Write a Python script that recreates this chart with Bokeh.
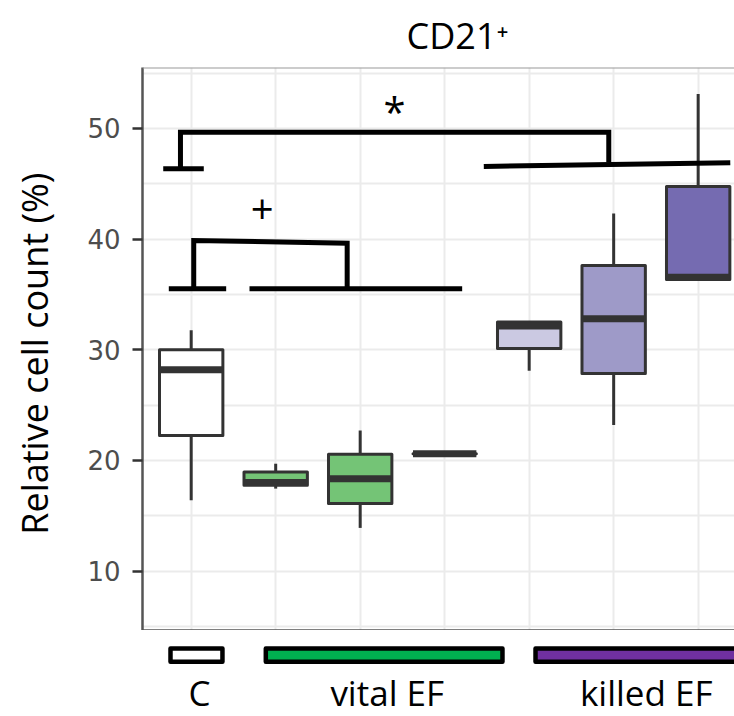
from bokeh.plotting import figure
from bokeh.layouts import column
from bokeh.models import Range1d, FixedTicker, ColumnDataSource, Span
from bokeh.embed import file_html
from bokeh.resources import INLINE
from bokeh.core.properties import value

# ---------------- data ----------------
categories = ["C", "vital EF 1", "vital EF 2", "vital EF 3",
              "killed EF 1", "killed EF 2", "killed EF 3"]
positions = [1, 2, 3, 4, 5, 6, 7]
lower = [16.4, 17.45, 13.9, 20.6, 28.1, 23.2, 36.35]
q1 = [22.25, 17.75, 16.1, 20.6, 30.1, 27.85, 36.35]
median = [28.2, 18.0, 18.35, 20.6, 32.15, 32.8, 36.55]
q3 = [30.0, 18.95, 20.55, 20.6, 32.5, 37.6, 44.75]
upper = [31.75, 19.7, 22.7, 20.6, 32.5, 42.3, 53.1]
fills = ["#ffffff", "#74c476", "#74c476", "#74c476", "#cbc9e2", "#9e9ac8", "#756bb1"]

y_ticks = [10, 20, 30, 40, 50]
y_minor = [5, 15, 25, 35, 45, 55]

# significance brackets (x in category units, y in %)
bracket_xs = [[0.873, 0.873, 5.942, 5.942], [1.03, 1.03, 2.846, 2.846]]
bracket_ys = [[46.35, 49.66, 49.66, 46.95], [35.51, 39.87, 39.63, 35.51]]
base_xs = [[0.669, 1.149], [4.463, 7.38], [0.735, 1.414], [1.69, 4.207]]
base_ys = [[46.35, 46.35], [46.56, 46.9], [35.51, 35.51], [35.51, 35.51]]
sig_text = ["*", "+"]
sig_x = [3.406, 1.84]
sig_y = [51.5, 42.7]

# group legend under the axis
group_names = ["C", "vital EF", "killed EF"]
group_left = [0.755, 1.883, 5.075]
group_right = [1.370, 4.684, 9.0]
group_label_x = [1.098, 3.32, 6.385]
group_colors = ["#ffffff", "#00b050", "#7030a0"]

TITLE = "CD21\u207a"
FONT = "Open Sans"
Y0, Y1 = 4.63, 55.5

x_range = Range1d(0.4237, 7.43)

p = figure(width=734, height=630, x_range=x_range, y_range=Range1d(Y0, Y1),
           output_backend="svg", toolbar_location=None,
           min_border_left=142, min_border_right=0, min_border_top=67, min_border_bottom=0)
p.outline_line_color = None
p.background_fill_color = "white"

p.title.text = TITLE
p.title.text_font = FONT
p.title.text_font_size = "36px"
p.title.text_font_style = "normal"
p.title.align = "left"
p.title.offset = 264
p.title.standoff = 15
p.title.text_color = "black"

# y axis
p.yaxis.ticker = FixedTicker(ticks=y_ticks, minor_ticks=y_minor)
p.yaxis.axis_label = "Relative cell count  (%)"
p.yaxis.axis_label_text_font = FONT
p.yaxis.axis_label_text_font_size = "36px"
p.yaxis.axis_label_text_font_style = "normal"
p.yaxis.axis_label_text_color = "black"
p.yaxis.axis_label_standoff = 25
p.yaxis.major_label_text_font = "DejaVu Sans"
p.yaxis.major_label_text_font_size = "26px"
p.yaxis.major_label_text_color = "#4d4d4d"
p.yaxis.major_label_standoff = 12
p.yaxis.major_tick_out = 10
p.yaxis.major_tick_in = 0
p.yaxis.major_tick_line_color = "#333333"
p.yaxis.major_tick_line_width = 2.5
p.yaxis.minor_tick_line_color = None
p.yaxis.axis_line_color = "#555555"
p.yaxis.axis_line_width = 2.5

p.xaxis.visible = False

# panel borders (top grey, bottom dark)
p.add_layout(Span(location=Y1, dimension="width", line_color="#9a9a9a", line_width=2))
p.add_layout(Span(location=Y0, dimension="width", line_color="#555555", line_width=2.5))

# grids
p.xgrid.ticker = FixedTicker(ticks=positions)
p.xgrid.grid_line_color = "#ebebeb"
p.xgrid.grid_line_width = 2
p.ygrid.grid_line_color = "#ebebeb"
p.ygrid.grid_line_width = 2
p.ygrid.minor_grid_line_color = "#ebebeb"
p.ygrid.minor_grid_line_width = 2

src = ColumnDataSource(dict(x=positions, lower=lower, q1=q1, median=median,
                            q3=q3, upper=upper, fill=fills, cat=categories))

p.segment(x0="x", x1="x", y0="q3", y1="upper", source=src, line_color="#333333", line_width=3)
p.segment(x0="x", x1="x", y0="q1", y1="lower", source=src, line_color="#333333", line_width=3)
p.vbar(x="x", width=0.75, top="q3", bottom="q1", source=src, fill_color="fill",
       line_color="#333333", line_width=3, line_join="round")
p.rect(x="x", y="median", width=0.75, height=7, height_units="screen", source=src,
       fill_color="#333333", line_color=None)

p.multi_line(xs=bracket_xs, ys=bracket_ys, line_color="black", line_width=5, line_join="miter")
p.multi_line(xs=base_xs, ys=base_ys, line_color="black", line_width=5)
p.text(x=sig_x, y=sig_y, text=sig_text, text_font=value(FONT), text_font_size="40px",
       text_align="center", text_baseline="middle", text_color="black")

# ---------------- group strip ----------------
SH = 86
s = figure(width=734, height=SH, x_range=x_range, y_range=Range1d(SH, 0),
           output_backend="svg", toolbar_location=None, x_axis_type=None, y_axis_type=None,
           min_border_left=142, min_border_right=0, min_border_top=0, min_border_bottom=0)
s.outline_line_color = None
s.xgrid.visible = False
s.ygrid.visible = False
gsrc = ColumnDataSource(dict(left=group_left, right=group_right, color=group_colors,
                             lx=group_label_x, name=group_names))
s.quad(left="left", right="right", top=18, bottom=31.3, source=gsrc, fill_color="color",
       line_color="black", line_width=4.5, line_join="round")
s.text(x="lx", y=61.5, text="name", source=gsrc, text_font=value(FONT), text_font_size="35px",
       text_align="center", text_baseline="middle", text_color="black")

layout = column(p, s, spacing=0)
open("out.html", "w").write(file_html(layout, INLINE))
